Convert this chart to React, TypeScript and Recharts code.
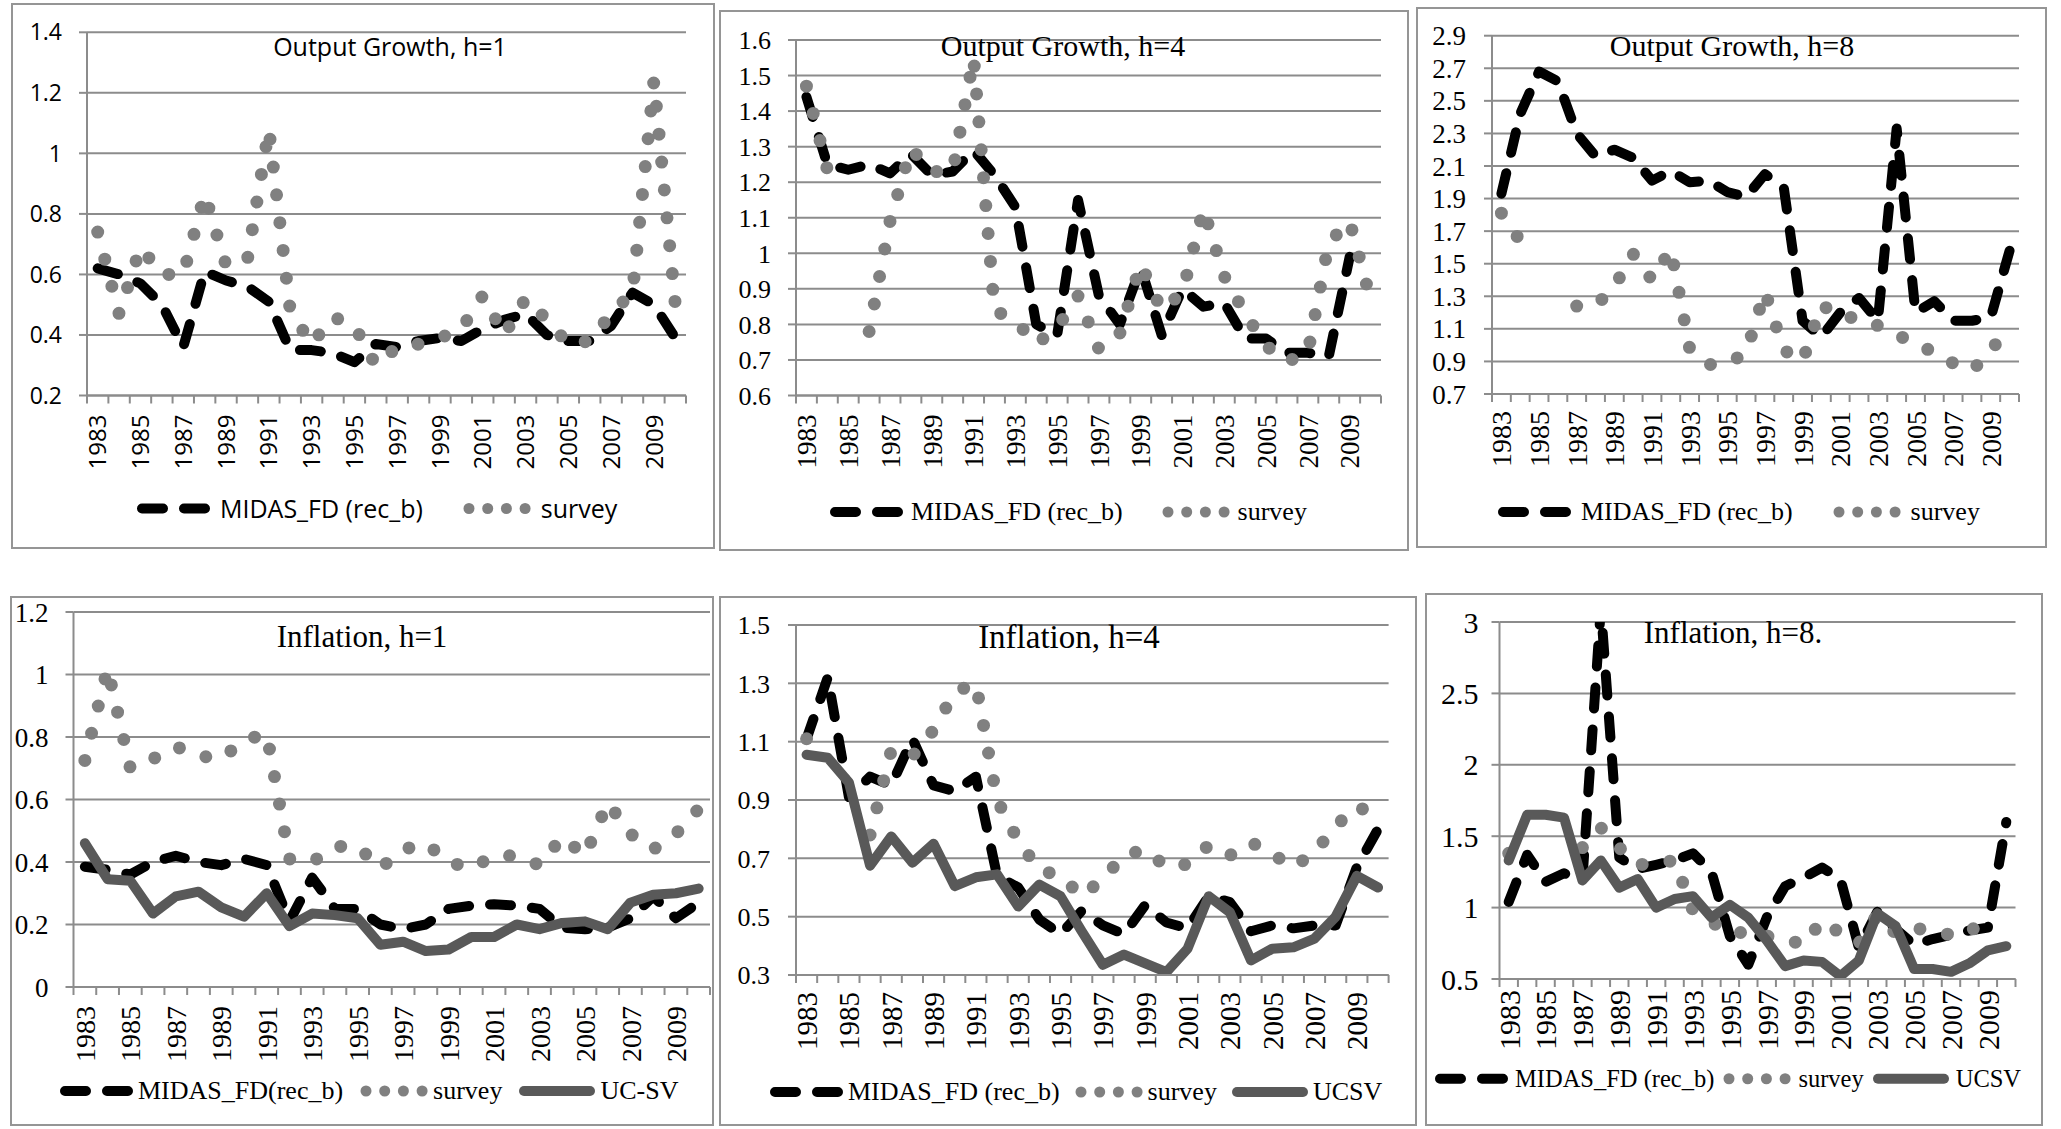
import React from "react";
import { LineChart, Line, XAxis, YAxis, CartesianGrid } from "recharts";

// ---- data (one value per year, 1983..2010) ----
const years = [
  1983, 1984, 1985, 1986, 1987, 1988, 1989, 1990, 1991, 1992, 1993, 1994, 1995, 1996,
  1997, 1998, 1999, 2000, 2001, 2002, 2003, 2004, 2005, 2006, 2007, 2008, 2009, 2010,
];

type V = number | null;

// Output growth, h=1
const ogH1Midas: V[] = [0.62, 0.6, 0.57, 0.5, 0.36, 0.61, 0.58, 0.56, 0.51, 0.35, 0.35, 0.34, 0.31, 0.37, 0.36, 0.38, 0.39, 0.38, 0.42, 0.45, 0.47, 0.4, 0.38, 0.38, 0.43, 0.54, 0.5, 0.39];
const ogH1Survey: V[] = [0.74, 0.47, 0.69, 0.6, 0.6, 0.865, 0.63, 0.65, 1.08, 0.48, 0.37, 0.46, 0.43, 0.3, 0.36, 0.37, 0.39, 0.42, 0.53, 0.4, 0.52, 0.45, 0.37, 0.38, 0.47, 0.54, 1.24, 0.5];

// Output growth, h=4
const ogH4Midas: V[] = [1.44, 1.25, 1.235, 1.25, 1.225, 1.28, 1.22, 1.23, 1.29, 1.22, 1.13, 0.8, 0.77, 1.15, 0.88, 0.8, 0.96, 0.77, 0.9, 0.85, 0.86, 0.76, 0.76, 0.72, 0.72, 0.71, 0.99, null];
const ogH4Survey: V[] = [1.47, 1.235, null, 0.78, 1.09, 1.295, 1.23, 1.23, 1.55, 0.84, 0.81, 0.745, 0.79, 0.88, 0.73, 0.775, 0.97, 0.84, 0.89, 1.125, 0.935, 0.83, 0.74, 0.695, 0.72, 1.03, 1.09, 0.87];

// Output growth, h=8
const ogH8Midas: V[] = [1.93, 2.42, 2.68, 2.62, 2.3, 2.16, 2.2, 2.15, 2.01, 2.07, 2.0, 2.01, 1.94, 1.91, 2.05, 1.97, 1.15, 1.05, 1.2, 1.29, 1.15, 2.33, 1.2, 1.27, 1.15, 1.15, 1.17, 1.58];
const ogH8Survey: V[] = [1.81, 1.64, 1.64, null, 1.24, 1.24, 1.36, 1.56, 1.4, 1.59, 0.98, 0.88, 0.89, 0.95, 1.33, 0.97, 0.9, 1.25, 1.17, 1.17, 1.12, 1.06, 1.02, 0.95, 0.89, 0.845, 0.96, 1.14];

// Inflation, h=1
const infH1Midas: V[] = [0.385, 0.375, 0.36, 0.4, 0.42, 0.4, 0.39, 0.41, 0.39, 0.21, 0.35, 0.25, 0.25, 0.2, 0.185, 0.2, 0.25, 0.26, 0.265, 0.26, 0.25, 0.19, 0.185, 0.19, 0.22, 0.29, 0.22, 0.27];
const infH1Survey: V[] = [0.725, 1.02, 0.7, 0.73, 0.77, 0.74, 0.73, 0.79, 0.81, 0.41, 0.4, 0.45, 0.45, 0.38, 0.44, 0.46, 0.4, 0.38, 0.42, 0.42, 0.39, 0.48, 0.42, 0.59, 0.49, 0.44, 0.49, 0.57];
const infH1Ucsv: V[] = [0.46, 0.345, 0.34, 0.235, 0.29, 0.305, 0.255, 0.225, 0.3, 0.195, 0.235, 0.23, 0.22, 0.135, 0.145, 0.115, 0.12, 0.16, 0.16, 0.2, 0.185, 0.205, 0.21, 0.185, 0.27, 0.295, 0.3, 0.315];

// Inflation, h=4
const infH4Midas: V[] = [1.11, 1.32, 0.91, 0.98, 0.95, 1.11, 0.95, 0.93, 0.98, 0.64, 0.6, 0.49, 0.44, 0.52, 0.47, 0.44, 0.54, 0.48, 0.46, 0.57, 0.55, 0.45, 0.47, 0.46, 0.47, 0.47, 0.67, 0.8];
const infH4Survey: V[] = [1.11, null, null, 0.78, 1.07, 1.05, 1.14, 1.27, 1.3, 0.9, 0.76, 0.66, 0.64, 0.57, 0.63, 0.71, 0.73, 0.67, 0.68, 0.745, 0.71, 0.755, 0.715, 0.67, 0.72, 0.81, 0.88, 0.84];
const infH4Ucsv: V[] = [1.055, 1.045, 0.96, 0.675, 0.775, 0.685, 0.75, 0.605, 0.635, 0.645, 0.535, 0.61, 0.57, 0.45, 0.335, 0.37, 0.34, 0.31, 0.39, 0.57, 0.515, 0.35, 0.39, 0.395, 0.425, 0.5, 0.64, 0.6];

// Inflation, h=8
const infH8Midas: V[] = [1.04, 1.37, 1.18, 1.24, 1.2, 3.1, 1.35, 1.27, 1.3, 1.33, 1.38, 1.25, 0.8, 0.6, 0.93, 1.15, 1.21, 1.28, 1.2, 0.72, 0.97, 0.85, 0.74, 0.78, 0.81, 0.84, 0.86, 1.6];
const infH8Survey: V[] = [1.38, 1.52, null, null, 1.42, 1.56, 1.42, 1.3, 1.31, 1.33, 0.98, 0.9, 0.82, 0.83, 0.8, 0.78, 0.74, 0.91, 0.82, 0.75, 0.95, 0.82, 0.86, 0.83, 0.81, 0.82, 0.97, null];
const infH8Ucsv: V[] = [1.33, 1.65, 1.65, 1.63, 1.19, 1.33, 1.14, 1.2, 1.0, 1.06, 1.08, 0.93, 1.02, 0.93, 0.77, 0.59, 0.63, 0.62, 0.52, 0.63, 0.96, 0.87, 0.57, 0.57, 0.55, 0.61, 0.7, 0.73];

// y-axis tick values
const ticksOgH1 = [0.2, 0.4, 0.6, 0.8, 1, 1.2, 1.4];
const ticksOgH4 = [0.6, 0.7, 0.8, 0.9, 1, 1.1, 1.2, 1.3, 1.4, 1.5, 1.6];
const ticksOgH8 = [0.7, 0.9, 1.1, 1.3, 1.5, 1.7, 1.9, 2.1, 2.3, 2.5, 2.7, 2.9];
const ticksInfH1 = [0, 0.2, 0.4, 0.6, 0.8, 1, 1.2];
const ticksInfH4 = [0.3, 0.5, 0.7, 0.9, 1.1, 1.3, 1.5];
const ticksInfH8 = [0.5, 1, 1.5, 2, 2.5, 3];

// ---- styling ----
const GRID = "#8c8c8c";
const BORDER = "#959595";
const SURVEY_C = "#808080";
const UCSV_C = "#595959";
const SANS = "'Open Sans', 'DejaVu Sans', sans-serif";
const SERIF = "'Liberation Serif', 'DejaVu Serif', serif";
const XH = 60;

// x positions: each year sits in the middle of its category band
const xTicks = [...years.flatMap((y) => [y, y + 0.5]), years[years.length - 1] + 1];

type Rect = { l: number; t: number; r: number; b: number };

interface PanelSpec {
  title: string;
  titleX: number;
  titleY: number;
  titleSize: number;
  box: Rect;
  plot: Rect;
  ticks: number[];
  midas: V[];
  survey: V[];
  ucsv?: V[];
  font: string;
  tickSize: number;
  tickMargin: number;
  yearSize: number;
  yearGap: number;
  labels: string[];
  legendX: number;
  legendY: number;
  legendSize: number;
  sampleGap: number;
  itemGap: number;
}

const panels: PanelSpec[] = [
  {
    title: "Output Growth, h=1", titleX: 390, titleY: 46, titleSize: 25,
    box: { l: 11, t: 3, r: 715, b: 549 }, plot: { l: 87, t: 32.3, r: 686, b: 395.5 },
    ticks: ticksOgH1, midas: ogH1Midas, survey: ogH1Survey,
    font: SANS, tickSize: 23, tickMargin: 17, yearSize: 24, yearGap: 19,
    labels: ["MIDAS_FD (rec_b)", "survey"], legendX: 137, legendY: 508, legendSize: 25, sampleGap: 10, itemGap: 40,
  },
  {
    title: "Output Growth, h=4", titleX: 1063, titleY: 46, titleSize: 30,
    box: { l: 719, t: 10, r: 1409, b: 551 }, plot: { l: 796, t: 40, r: 1381, b: 395.5 },
    ticks: ticksOgH4, midas: ogH4Midas, survey: ogH4Survey,
    font: SERIF, tickSize: 26, tickMargin: 17, yearSize: 27, yearGap: 19,
    labels: ["MIDAS_FD (rec_b)", "survey"], legendX: 830, legendY: 512, legendSize: 26, sampleGap: 8, itemGap: 39,
  },
  {
    title: "Output Growth, h=8", titleX: 1732, titleY: 46, titleSize: 30,
    box: { l: 1416, t: 7, r: 2047, b: 548 }, plot: { l: 1492, t: 35.7, r: 2019, b: 394 },
    ticks: ticksOgH8, midas: ogH8Midas, survey: ogH8Survey,
    font: SERIF, tickSize: 27, tickMargin: 18, yearSize: 28, yearGap: 17,
    labels: ["MIDAS_FD (rec_b)", "survey"], legendX: 1498, legendY: 512, legendSize: 26, sampleGap: 10, itemGap: 40,
  },
  {
    title: "Inflation, h=1", titleX: 362, titleY: 636, titleSize: 31,
    box: { l: 10, t: 596, r: 714, b: 1126 }, plot: { l: 73.5, t: 612, r: 710, b: 987 },
    ticks: ticksInfH1, midas: infH1Midas, survey: infH1Survey, ucsv: infH1Ucsv,
    font: SERIF, tickSize: 27, tickMargin: 17, yearSize: 28, yearGap: 19,
    labels: ["MIDAS_FD(rec_b)", "survey", "UC-SV"], legendX: 60, legendY: 1091, legendSize: 26, sampleGap: 5, itemGap: 17,
  },
  {
    title: "Inflation, h=4", titleX: 1069, titleY: 637, titleSize: 33,
    box: { l: 719, t: 596, r: 1417, b: 1126 }, plot: { l: 796, t: 625, r: 1388.6, b: 975 },
    ticks: ticksInfH4, midas: infH4Midas, survey: infH4Survey, ucsv: infH4Ucsv,
    font: SERIF, tickSize: 26, tickMargin: 18, yearSize: 29, yearGap: 17,
    labels: ["MIDAS_FD (rec_b)", "survey", "UCSV"], legendX: 770, legendY: 1092, legendSize: 26, sampleGap: 5, itemGap: 15,
  },
  {
    title: "Inflation, h=8.", titleX: 1733, titleY: 632, titleSize: 31,
    box: { l: 1424.5, t: 593, r: 2043, b: 1126 }, plot: { l: 1499, t: 622, r: 2015, b: 979 },
    ticks: ticksInfH8, midas: infH8Midas, survey: infH8Survey, ucsv: infH8Ucsv,
    font: SERIF, tickSize: 30, tickMargin: 13, yearSize: 30, yearGap: 11,
    labels: ["MIDAS_FD (rec_b)", "survey", "UCSV"], legendX: 1435, legendY: 1079, legendSize: 24.5, sampleGap: 7, itemGap: 9,
  },
];

const fmt = (v: number) => String(Math.round(v * 10) / 10);

function DashSample() {
  return (
    <svg width={73} height={14} style={{ display: "block" }}>
      <line x1={5} y1={7} x2={68} y2={7} stroke="#000" strokeWidth={10} strokeLinecap="round" strokeDasharray="21 21" />
    </svg>
  );
}

function DotSample() {
  return (
    <svg width={68} height={14} style={{ display: "block" }}>
      {[0, 1, 2, 3].map((i) => (
        <circle key={i} cx={6 + i * 18.7} cy={7} r={5.5} fill={SURVEY_C} />
      ))}
    </svg>
  );
}

function SolidSample() {
  return (
    <svg width={76} height={14} style={{ display: "block" }}>
      <line x1={5} y1={7} x2={71} y2={7} stroke={UCSV_C} strokeWidth={10} strokeLinecap="round" />
    </svg>
  );
}

function Panel({ p }: { p: PanelSpec }) {
  const W = p.box.r - p.box.l;
  const H = p.box.b - p.box.t;
  const rows = years.map((y, i) => ({
    x: y + 0.5,
    midas: p.midas[i],
    survey: p.survey[i],
    ucsv: p.ucsv ? p.ucsv[i] : null,
  }));

  // a survey value with no neighbours still shows as one dot
  const surveyDot = (d: any) => {
    const i = d.index;
    const s = p.survey;
    const lone = s[i] != null && (i === 0 || s[i - 1] == null) && (i === s.length - 1 || s[i + 1] == null);
    if (!lone || d.cx == null) return <g key={`sd${i}`} />;
    return <circle key={`sd${i}`} cx={d.cx} cy={d.cy} r={6.5} fill={SURVEY_C} />;
  };

  const yearTick = (d: any) => {
    const { x, y, payload } = d;
    const v = payload.value as number;
    if (Number.isInteger(v)) {
      return <line x1={x} x2={x} y1={y} y2={y + 8} stroke={GRID} strokeWidth={2} />;
    }
    const yr = Math.floor(v);
    if ((yr - years[0]) % 2 !== 0) return <g />;
    const ty = y + p.yearGap;
    return (
      <text
        x={x}
        y={ty}
        transform={`rotate(-90 ${x} ${ty})`}
        textAnchor="end"
        dy="0.36em"
        fontSize={p.yearSize}
        fontFamily={p.font}
        fill="#000"
      >
        {yr}
      </text>
    );
  };

  const samples = [<DashSample />, <DotSample />, <SolidSample />];

  return (
    <>
      <div
        style={{
          position: "absolute",
          left: p.box.l,
          top: p.box.t,
          width: W,
          height: H,
          border: `2px solid ${BORDER}`,
          boxSizing: "border-box",
        }}
      />
      <div style={{ position: "absolute", left: p.box.l, top: p.box.t }}>
        <LineChart
          width={W}
          height={H}
          data={rows}
          margin={{ top: p.plot.t - p.box.t, right: p.box.r - p.plot.r, bottom: p.box.b - p.plot.b - XH, left: 0 }}
        >
          <CartesianGrid vertical={false} stroke={GRID} strokeWidth={2} />
          <XAxis
            type="number"
            dataKey="x"
            domain={[years[0], years[years.length - 1] + 1]}
            ticks={xTicks}
            interval={0}
            height={XH}
            tickSize={0}
            tickMargin={0}
            tickLine={false}
            axisLine={{ stroke: GRID, strokeWidth: 2 }}
            tick={yearTick}
          />
          <YAxis
            type="number"
            domain={[p.ticks[0], p.ticks[p.ticks.length - 1]]}
            ticks={p.ticks}
            interval={0}
            allowDataOverflow
            width={p.plot.l - p.box.l}
            tickSize={8}
            tickMargin={p.tickMargin}
            tickLine={{ stroke: GRID, strokeWidth: 2 }}
            axisLine={{ stroke: GRID, strokeWidth: 2 }}
            tick={{ fill: "#000", fontSize: p.tickSize, fontFamily: p.font }}
            tickFormatter={fmt}
          />
          <Line
            dataKey="midas"
            stroke="#000"
            strokeWidth={10}
            strokeDasharray="21 21"
            strokeLinecap="round"
            strokeLinejoin="round"
            dot={false}
            activeDot={false}
            isAnimationActive={false}
          />
          <Line
            dataKey="survey"
            stroke={SURVEY_C}
            strokeWidth={13}
            strokeDasharray="0 28"
            strokeLinecap="round"
            strokeLinejoin="round"
            dot={surveyDot}
            activeDot={false}
            isAnimationActive={false}
          />
          {p.ucsv && (
            <Line
              dataKey="ucsv"
              stroke={UCSV_C}
              strokeWidth={10}
              strokeLinejoin="round"
              strokeLinecap="round"
              dot={false}
              activeDot={false}
              isAnimationActive={false}
            />
          )}
        </LineChart>
      </div>
      <div
        style={{
          position: "absolute",
          left: p.titleX,
          top: p.titleY,
          transform: "translate(-50%, -50%)",
          fontFamily: p.font,
          fontSize: p.titleSize,
          lineHeight: 1,
          whiteSpace: "nowrap",
          color: "#000",
        }}
      >
        {p.title}
      </div>
      <div
        style={{
          position: "absolute",
          left: p.legendX,
          top: p.legendY,
          transform: "translateY(-50%)",
          display: "flex",
          alignItems: "center",
          fontFamily: p.font,
          fontSize: p.legendSize,
          lineHeight: 1,
          whiteSpace: "nowrap",
          color: "#000",
        }}
      >
        {p.labels.map((lab, i) => (
          <React.Fragment key={lab}>
            <div style={{ marginLeft: i === 0 ? 0 : p.itemGap, marginRight: p.sampleGap }}>{samples[i]}</div>
            <span>{lab}</span>
          </React.Fragment>
        ))}
      </div>
    </>
  );
}

export default function App() {
  return (
    <div
      style={{
        position: "fixed",
        left: 0,
        top: 0,
        width: 2061,
        height: 1129,
        background: "#fff",
        overflow: "hidden",
      }}
    >
      {panels.map((p) => (
        <Panel key={p.title} p={p} />
      ))}
    </div>
  );
}
